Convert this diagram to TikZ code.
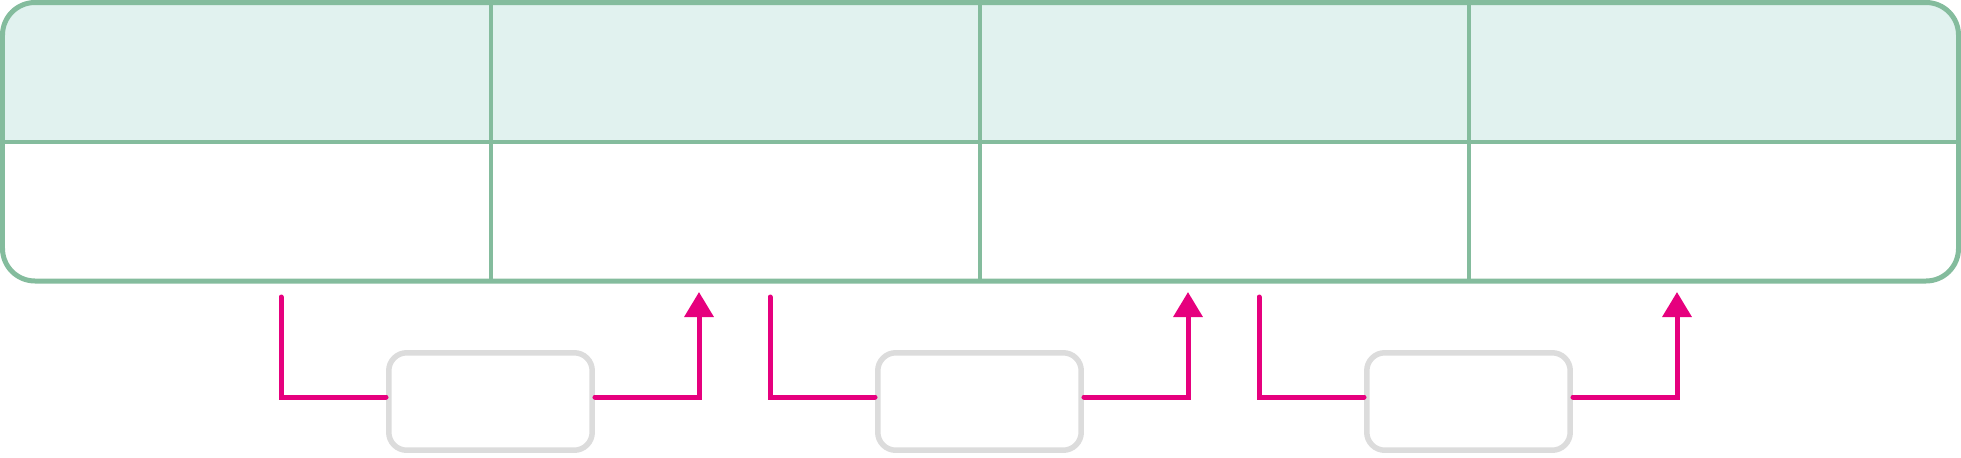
\documentclass[tikz,border=0pt]{standalone}
\usetikzlibrary{arrows.meta}
\definecolor{tablegreen}{HTML}{84BC9D}
\definecolor{headfill}{HTML}{E1F2EF}
\definecolor{linkpink}{HTML}{E6007E}
\definecolor{boxgrey}{HTML}{DCDCDC}
\begin{document}
\begin{tikzpicture}[x=0.02cm,y=-0.02cm,
  slot/.style={draw=boxgrey,line width=0.11cm,rounded corners=0.36cm,minimum width=4.07cm,minimum height=1.95cm,fill=white},
  link/.style={draw=linkpink,line width=0.1cm,line cap=round}]
  \useasboundingbox (0,0) rectangle (1961,457);
  % Table
  \begin{scope}
    \clip (0,0) rectangle (1961,142);
    \fill[headfill,rounded corners=0.65cm] (2,2) rectangle (1958,281);
  \end{scope}
  \draw[tablegreen,line width=0.065cm] (2,142) -- (1958,142);
  \foreach \x in {491,980,1469}
    \draw[tablegreen,line width=0.065cm] (\x,2) -- (\x,281);
  \draw[tablegreen,line width=0.1cm,rounded corners=0.65cm] (2.5,2.5) rectangle (1958.5,281);
  % Boxes and links
  \foreach \i/\x in {1/491,2/980,3/1469} {
    \node[slot] (box\i) at (\x-0.5,401.5) {};
    \coordinate (in\i) at (\x-210,297);
    \coordinate (out\i) at (\x+208,292);
    \draw[link] (in\i) |- ([yshift=0.09cm]box\i.west);
    \draw[link,-{Triangle[width=0.57cm,length=0.5cm]}] ([yshift=0.09cm]box\i.east) -| (out\i);
  }
\end{tikzpicture}
\end{document}
